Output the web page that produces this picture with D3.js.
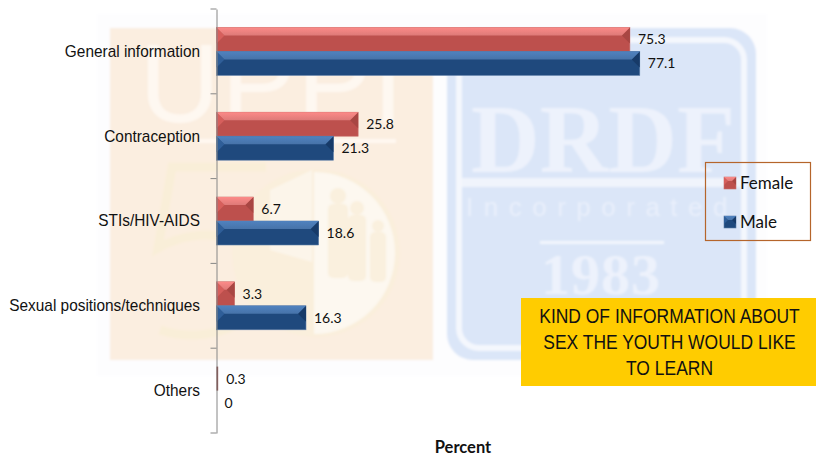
<!DOCTYPE html>
<html>
<head>
<meta charset="utf-8">
<script src="https://cdn.jsdelivr.net/npm/d3@7"></script>
<style>
  html, body { margin: 0; padding: 0; background: #fff; }
  svg { display: block; }
</style>
</head>
<body>
<div id="chart"></div>
<script>
const categories = ['General information', 'Contraception', 'STIs/HIV-AIDS', 'Sexual positions/techniques', 'Others'];
const seriesNames = ['Female', 'Male'];
const femaleValues = [75.3, 25.8, 6.7, 3.3, 0.3];
const maleValues = [77.1, 21.3, 18.6, 16.3, 0];
const titleLines = ['KIND OF INFORMATION ABOUT', 'SEX THE YOUTH WOULD LIKE', 'TO LEARN'];

const width = 816;
const height = 457;
const bevel = 8;

const colours = {
    Female: { top: '#fc8a88', body: '#bd504d', left: '#d65f5c', right: '#a84643', edge: '#c9726f' },
    Male: { top: '#5082bf', body: '#1f497d', left: '#2f5e98', right: '#173a68', edge: '#5f7fa8' },
};

const svg = d3.select('#chart').append('svg')
    .attr('width', width)
    .attr('height', height);

const defs = svg.append('defs');
defs.append('filter').attr('id', 'soft').append('feGaussianBlur').attr('stdDeviation', 0.8);

// squeeze a text sideways, the reference uses a narrow face
const squeeze = (sel, factor) => sel.each(function () {
    const t = d3.select(this);
    t.attr('textLength', this.getComputedTextLength() * factor).attr('lengthAdjust', 'spacingAndGlyphs');
});

// Watermark behind the chart
const bg = svg.append('g').attr('filter', 'url(#soft)');
bg.append('rect').attr('x', 97).attr('y', 14).attr('width', 670).attr('height', 362).attr('fill', '#fdfdfe');
bg.append('rect').attr('x', 110).attr('y', 28).attr('width', 323).attr('height', 332).attr('fill', '#fbeee0');
bg.append('rect').attr('x', 447).attr('y', 28).attr('width', 309).attr('height', 332).attr('rx', 26).attr('fill', '#dbe6f8');
bg.append('rect').attr('x', 459).attr('y', 40).attr('width', 285).attr('height', 308).attr('rx', 20)
    .attr('fill', 'none').attr('stroke', '#f4f7fd').attr('stroke-width', 6);
bg.append('rect').attr('x', 462).attr('y', 178).attr('width', 279).attr('height', 9).attr('fill', '#f0f4fc');
bg.append('rect').attr('x', 540).attr('y', 241).attr('width', 124).attr('height', 3).attr('fill', '#f2f6fd');

const wmText = (txt, x, y, size, fill, family, extra, weight) => bg.append('text')
    .attr('x', x).attr('y', y).attr('text-anchor', 'middle')
    .attr('font-family', family).attr('font-size', size).attr('fill', fill)
    .attr('font-weight', weight || 400)
    .attr('letter-spacing', extra || 0).text(txt);

wmText('UPPI', 272, 122, 112, '#fef8f1', 'Liberation Sans', '1px');
bg.append('rect').attr('x', 198).attr('y', 139).attr('width', 198).attr('height', 4).attr('fill', '#fff8f1');
// the big 5 and the round logo
bg.append('path').attr('d', 'M266 167 L172 167 L158 248 C205 222 262 236 262 284 C262 326 205 345 160 330')
    .attr('fill', 'none').attr('stroke', '#f9eed8').attr('stroke-width', 9);
bg.append('circle').attr('cx', 316).attr('cy', 253).attr('r', 84).attr('fill', '#faefdc');
bg.append('path').attr('d', 'M314 172 A81 81 0 0 1 314 334 Z').attr('fill', '#fdf8f0');
bg.append('path').attr('d', 'M270 190 L312 170 L312 262 L270 250 Z').attr('fill', '#fcf5ea');
// small crowd in the logo
[[338, 196, 8, 74], [357, 208, 7, 66], [378, 226, 6, 50]].forEach(p => {
    bg.append('circle').attr('cx', p[0]).attr('cy', p[1]).attr('r', p[2]).attr('fill', '#faf0de');
    bg.append('rect').attr('x', p[0] - p[2] - 2).attr('y', p[1] + p[2]).attr('width', p[2] * 2 + 4).attr('height', p[3]).attr('rx', 5).attr('fill', '#faf0de');
});

squeeze(wmText('DRDF', 603, 172, 98, '#edf2fc', 'Liberation Serif', '0px', 700), 0.97);
wmText('Incorporated', 602, 216, 26, '#e9effb', 'Liberation Sans', '10.5px');
wmText('1983', 601, 294, 58, '#edf2fc', 'Liberation Serif', '1px', 700);

// Scales
const y = d3.scaleBand().domain(categories).range([9, 433]);
const ySeries = d3.scaleBand().domain(seriesNames).range([0, 48]);
const groupOffset = (y.bandwidth() - 48) / 2;
const x = d3.scaleLinear().domain([0, 100]).range([216.5, 765.5]);

// Defs for the bevel gradient
seriesNames.forEach(name => {
    const grad = defs.append('linearGradient').attr('id', `top-${name}`)
        .attr('x1', 0).attr('y1', 0).attr('x2', 0).attr('y2', 1);
    grad.append('stop').attr('offset', 0).attr('stop-color', colours[name].top);
    grad.append('stop').attr('offset', 1).attr('stop-color', d3.color(colours[name].top).darker(0.35));
});

function drawBevelBar(g, name, x0, x1, y0, y1, depth) {
    const c = colours[name];
    const d = Math.min(depth, (x1 - x0) / 2);
    const pts = arr => arr.map(p => p.join(',')).join(' ');
    g.append('rect').attr('x', x0).attr('y', y0).attr('width', x1 - x0).attr('height', y1 - y0)
        .attr('fill', x1 - x0 < 4 ? '#7d3836' : c.body).attr('stroke', x1 - x0 < 4 ? 'none' : c.edge).attr('stroke-width', 0.6);
    if (x1 - x0 < 4) return;
    g.append('polygon').attr('points', pts([[x0, y0], [x0 + d, y0 + d], [x0, y0 + d * 2]])).attr('fill', c.left);
    g.append('polygon').attr('points', pts([[x1, y0], [x1 - d, y0 + d], [x1, y0 + d * 2]])).attr('fill', c.right);
    g.append('polygon').attr('points', pts([[x0, y0], [x1, y0], [x1 - d, y0 + d], [x0 + d, y0 + d]]))
        .attr('fill', `url(#top-${name})`);
}

// Bars
const rows = categories.map((cat, i) => ({ cat, Female: femaleValues[i], Male: maleValues[i] }));
const barLayer = svg.append('g');
rows.forEach(row => {
    seriesNames.forEach(name => {
        const v = row[name];
        const y0 = y(row.cat) + groupOffset + ySeries(name);
        const y1 = y0 + ySeries.bandwidth();
        if (v > 0) {
            drawBevelBar(barLayer, name, x(0), x(v), y0, y1, bevel);
        }
        svg.append('text')
            .attr('x', x(v) + 8)
            .attr('y', (y0 + y1) / 2 + 5)
            .attr('font-family', 'Lato')
            .attr('font-size', 14)
            .attr('fill', '#111')
            .text(v);
    });
});

// Axis, ticks sit on the band edges
const axisColor = '#868686';
const axisG = svg.append('g').attr('transform', `translate(${x(0)},0)`)
    .call(d3.axisLeft(y).tickSize(0).tickPadding(16.5));
axisG.select('.domain').attr('stroke', axisColor).attr('stroke-width', 1);
axisG.selectAll('.tick text')
    .attr('font-family', 'Liberation Sans')
    .attr('font-size', 17)
    .attr('fill', '#111')
    .call(squeeze, 0.905);
categories.concat(['__end']).forEach(cat => {
    const ty = cat === '__end' ? y.range()[1] : y(cat);
    axisG.append('line').attr('x1', -6).attr('x2', 0).attr('y1', ty).attr('y2', ty)
        .attr('stroke', axisColor).attr('stroke-width', 1);
});

// Axis title
svg.append('text').attr('x', 463).attr('y', 453).attr('text-anchor', 'middle')
    .attr('font-family', 'Lato').attr('font-weight', 700).attr('font-size', 16.5).attr('fill', '#111')
    .text('Percent');

// Legend
const legendY = d3.scalePoint().domain(seriesNames).range([183, 222]);
svg.append('rect').attr('x', 705.5).attr('y', 162.5).attr('width', 105).attr('height', 78)
    .attr('fill', 'none').attr('stroke', '#b5652b').attr('stroke-width', 1.2);
seriesNames.forEach(name => {
    const cy = legendY(name);
    const g = svg.append('g');
    drawBevelBar(g, name, 724, 736, cy - 6, cy + 6, 4);
    svg.append('text').attr('x', 740).attr('y', cy + 5.5)
        .attr('font-family', 'Lato').attr('font-size', 17).attr('fill', '#111').text(name);
});

// Yellow title box
svg.append('rect').attr('x', 521).attr('y', 298).attr('width', 295).attr('height', 88).attr('fill', '#ffcc00');
titleLines.forEach((line, i) => {
    svg.append('text')
        .attr('transform', `translate(669.5,${323 + i * 26}) scale(0.873,1)`)
        .attr('text-anchor', 'middle')
        .attr('font-family', 'Liberation Sans').attr('font-size', 20)
        .attr('fill', '#111')
        .text(line);
});
</script>
</body>
</html>
